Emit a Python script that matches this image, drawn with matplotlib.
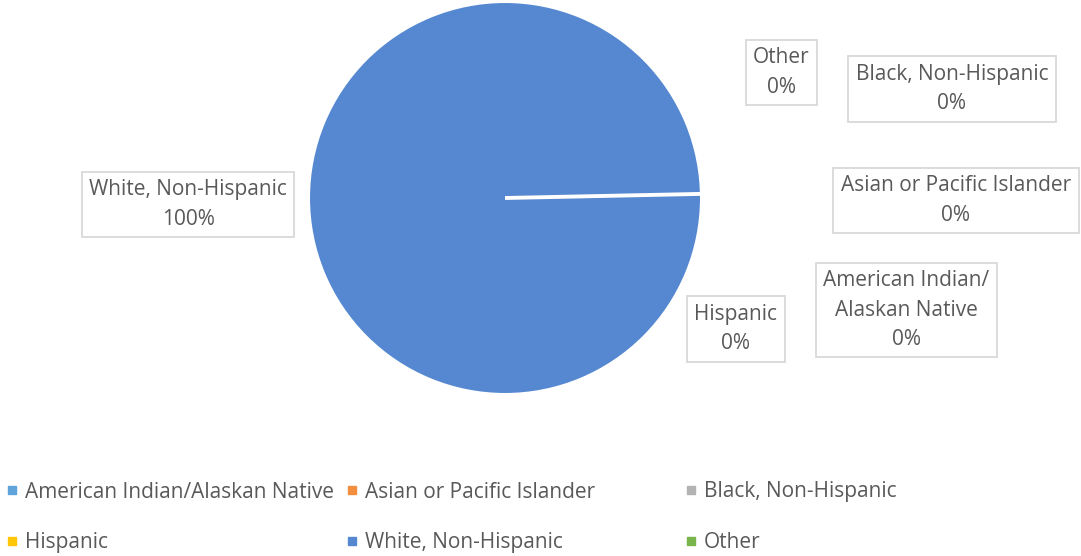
import matplotlib
matplotlib.use("Agg")
import matplotlib.pyplot as plt
from matplotlib.lines import Line2D

categories = ["American Indian/Alaskan Native", "Asian or Pacific Islander",
              "Black, Non-Hispanic", "Hispanic", "White, Non-Hispanic", "Other"]
values = [0, 0, 0, 0, 100, 0]
colors = ["#5FA5DC", "#F28E3E", "#B3B3B3", "#FFC60A", "#5588D0", "#79B54A"]

TEXT = "#595959"
FS = 15
plt.rcParams['font.family'] = ['Open Sans', 'DejaVu Sans']

W, H = 1081, 556
fig = plt.figure(figsize=(W / 100, H / 100), dpi=100)

# pie axes: centre (505,198) px from top, radius 195 px
cx, cy, r = 505, 198, 195
ax = fig.add_axes([(cx - r) / W, (H - cy - r) / H, 2 * r / W, 2 * r / H])
ax.pie(values, colors=colors, startangle=1.2, counterclock=False, radius=1.03,
       wedgeprops=dict(edgecolor="white", linewidth=2.8))
ax.set_xlim(-1.02, 1.02)
ax.set_ylim(-1.02, 1.02)
ax.set_aspect("equal")
ax.axis("off")

# data label boxes (centre positions in pixels from top-left)
label_pos = {
    "American Indian/Alaskan Native": (906.5, 310),
    "Asian or Pacific Islander": (956, 200.5),
    "Black, Non-Hispanic": (952, 89),
    "Hispanic": (735.5, 329),
    "White, Non-Hispanic": (188, 204.5),
    "Other": (781.5, 72.5),
}
total = sum(values)
for cat, v in zip(categories, values):
    name = cat.replace("/", "/\n")
    txt = f"{name}\n{v / total * 100:.0f}%"
    x, y = label_pos[cat]
    fig.text(x / W, 1 - y / H, txt, ha="center", va="center", fontsize=FS,
             color=TEXT, linespacing=1.52,
             bbox=dict(boxstyle="square,pad=0.36", fc="white", ec="#D9D9D9", lw=1.3))

# legend: three columns of two rows
col_x = [5, 345, 684]
for c in range(3):
    idx = [c, c + 3]
    handles = [Line2D([], [], marker="s", linestyle="none", markersize=5.5,
                      markerfacecolor=colors[i], markeredgecolor=colors[i]) for i in idx]
    leg = fig.legend(handles, [categories[i] for i in idx], loc="upper left",
                     bbox_to_anchor=(col_x[c] / W, 1 - 481.5 / H), frameon=False,
                     fontsize=FS, handlelength=0.68, handletextpad=0.28,
                     borderpad=0, borderaxespad=0, labelspacing=1.42)
    for t in leg.get_texts():
        t.set_color(TEXT)

fig.savefig("out.png", dpi=100)
